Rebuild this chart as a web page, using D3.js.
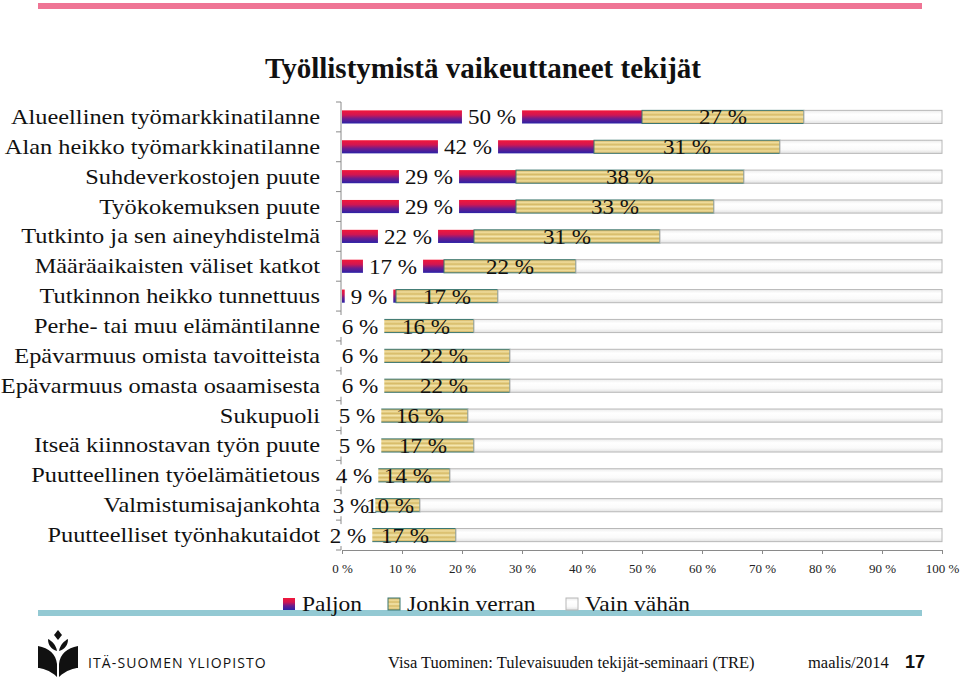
<!DOCTYPE html>
<html><head><meta charset="utf-8">
<script src="https://cdn.jsdelivr.net/npm/d3@7"></script>
<style>
html,body{margin:0;padding:0;background:#fff;}
svg{display:block;}
</style></head>
<body>
<svg id="chart" width="960" height="679"></svg>
<script>
const categories = [
  "Alueellinen työmarkkinatilanne",
  "Alan heikko työmarkkinatilanne",
  "Suhdeverkostojen puute",
  "Työkokemuksen puute",
  "Tutkinto ja sen aineyhdistelmä",
  "Määräaikaisten väliset katkot",
  "Tutkinnon heikko tunnettuus",
  "Perhe- tai muu elämäntilanne",
  "Epävarmuus omista tavoitteista",
  "Epävarmuus omasta osaamisesta",
  "Sukupuoli",
  "Itseä kiinnostavan työn puute",
  "Puutteellinen työelämätietous",
  "Valmistumisajankohta",
  "Puutteelliset työnhakutaidot"
];
const paljon = [50, 42, 29, 29, 22, 17, 9, 6, 6, 6, 5, 5, 4, 3, 2];
const jonkin = [27, 31, 38, 33, 31, 22, 17, 16, 22, 22, 16, 17, 14, 10, 17];
const vainVahan = [23, 27, 33, 38, 47, 61, 74, 78, 72, 72, 79, 78, 82, 87, 81];
const seriesNames = ["Paljon", "Jonkin verran", "Vain vähän"];
const xTicks = [0, 10, 20, 30, 40, 50, 60, 70, 80, 90, 100];
const title = "Työllistymistä vaikeuttaneet tekijät";

const svg = d3.select("#chart");
const serif = "'Liberation Serif','Times New Roman',serif";

// defs
const defs = svg.append("defs");
const gP = defs.append("linearGradient").attr("id","gP").attr("x1",0).attr("y1",0).attr("x2",0).attr("y2",1);
[[0,"#f2173a"],[0.35,"#d01652"],[0.65,"#6a1c8e"],[1,"#2a22a6"]].forEach(s=>gP.append("stop").attr("offset",s[0]).attr("stop-color",s[1]));
const gJ = defs.append("linearGradient").attr("id","gJ").attr("x1",0).attr("y1",0).attr("x2",0).attr("y2",1);
[[0,"#c9a956"],[0.18,"#f1de9e"],[0.34,"#d6ba66"],[0.5,"#f5e7b0"],[0.66,"#d6ba66"],[0.82,"#efdb98"],[1,"#c4a452"]].forEach(s=>gJ.append("stop").attr("offset",s[0]).attr("stop-color",s[1]));
const gV = defs.append("linearGradient").attr("id","gV").attr("x1",0).attr("y1",0).attr("x2",0).attr("y2",1);
[[0,"#ececec"],[0.3,"#ffffff"],[0.7,"#fafafa"],[1,"#e2e2e2"]].forEach(s=>gV.append("stop").attr("offset",s[0]).attr("stop-color",s[1]));
const fills = ["url(#gP)","url(#gJ)","url(#gV)"];
const strokes = ["none","#3b7772","#b8b8b8"];

// decorations
svg.append("rect").attr("x",38).attr("y",3).attr("width",884).attr("height",6).attr("fill","#ef7595");
svg.append("rect").attr("x",38).attr("y",610).attr("width",884).attr("height",6).attr("fill","#93c9d3");

// title
svg.append("text").attr("x",483).attr("y",78).attr("text-anchor","middle")
  .attr("font-family",serif).attr("font-weight","bold").attr("font-size",29).attr("fill","#111").text(title);

// data table
const table = categories.map((c,i)=>({cat:c,"Paljon":paljon[i],"Jonkin verran":jonkin[i],"Vain vähän":vainVahan[i]}));
const stack = d3.stack().keys(seriesNames)(table);

const x = d3.scaleLinear().domain([0,100]).range([342,942]);
const y = d3.scaleBand().domain(categories).range([102,550]).paddingInner(0.56).paddingOuter(0.28);
const step = y.step();

// axes
const xAxis = svg.append("g").attr("transform","translate(0,550)")
  .call(d3.axisBottom(x).tickValues(xTicks).tickSize(4).tickFormat(d=>d+" %"));
xAxis.select(".domain").attr("stroke","#8a8a8a");
xAxis.selectAll(".tick line").attr("stroke","#8a8a8a");
xAxis.selectAll(".tick text").attr("font-family",serif).attr("font-size",13).attr("fill","#222").attr("dy","1.2em");

// y axis line + boundary ticks
svg.append("line").attr("x1",341).attr("x2",341).attr("y1",102).attr("y2",550).attr("stroke","#8a8a8a");
svg.selectAll(".ytick").data(d3.range(categories.length+1)).join("line")
  .attr("x1",336).attr("x2",341)
  .attr("y1",i=>y.range()[0]+i*step).attr("y2",i=>y.range()[0]+i*step)
  .attr("stroke","#8a8a8a");

// category labels (horizontally widened to mimic the wide original face)
svg.selectAll(".cat").data(categories).join("text")
  .attr("transform",d=>`translate(320,${y(d)+y.bandwidth()/2+7}) scale(1.16,1)`)
  .attr("text-anchor","end").attr("font-family",serif).attr("font-size",21).attr("fill","#111").text(d=>d);

// bars
const layers = svg.selectAll(".layer").data(stack).join("g");
layers.each(function(s,si){
  d3.select(this).selectAll("rect").data(s).join("rect")
    .attr("x",d=>x(d[0])).attr("width",d=>x(d[1])-x(d[0]))
    .attr("y",d=>y(d.data.cat)).attr("height",y.bandwidth())
    .attr("fill",fills[si]).attr("stroke",strokes[si]).attr("stroke-width",1);
});

const LS = 1.1; // label widen factor
// Paljon labels with white boxes
const pl = svg.selectAll(".pl").data(stack[0]).join("g");
pl.each(function(d){
  const g = d3.select(this);
  const cx = x((d[0]+d[1])/2), cy = y(d.data.cat)+y.bandwidth()/2;
  const t = g.append("text").attr("transform",`translate(${cx},${cy+7.5}) scale(${LS},1)`).attr("text-anchor","middle")
    .attr("font-family",serif).attr("font-size",21).attr("fill","#111").text(d.data["Paljon"]+" %");
  const w = t.node().getComputedTextLength()*LS;
  g.insert("rect","text").attr("x",cx-w/2-6).attr("y",cy-11).attr("width",w+12).attr("height",22).attr("fill","#fff");
});
// Jonkin labels
svg.selectAll(".jl").data(stack[1]).join("text")
  .attr("transform",d=>`translate(${x((d[0]+d[1])/2)},${y(d.data.cat)+y.bandwidth()/2+7.5}) scale(${LS},1)`)
  .attr("text-anchor","middle").attr("font-family",serif).attr("font-size",21).attr("fill","#111")
  .text(d=>d.data["Jonkin verran"]+" %");

// legend
const legX = [283, 388, 566];
const leg = svg.selectAll(".leg").data(seriesNames).join("g").attr("transform",(d,i)=>`translate(${legX[i]},598)`);
leg.append("rect").attr("width",12).attr("height",12).attr("fill",(d,i)=>fills[i]).attr("stroke",(d,i)=>strokes[i]==="none"?"none":strokes[i]);
leg.append("text").attr("transform","translate(19,13) scale(1.12,1)").attr("font-family",serif).attr("font-size",21).attr("fill","#111").text(d=>d);

// footer logo
const logo = svg.append("g").attr("transform","translate(38,630)").attr("fill","#111");
logo.append("path").attr("d","M20 0 L24 5 L20 10 L16 5 Z");
logo.append("path").attr("d","M10 9 C14 11 18 15 19 21 C13 19 10 15 10 9 Z");
logo.append("path").attr("d","M30 9 C26 11 22 15 21 21 C27 19 30 15 30 9 Z");
logo.append("path").attr("d","M0 16 C11 18 18 24 19 34 L19 47 C12 40 3 38 0 38 Z");
logo.append("path").attr("d","M40 16 C29 18 22 24 21 34 L21 47 C28 40 37 38 40 38 Z");
svg.append("text").attr("x",88).attr("y",668).attr("font-family","'Open Sans','DejaVu Sans',sans-serif")
  .attr("font-size",14).attr("letter-spacing",1.1).attr("fill","#111").text("ITÄ-SUOMEN YLIOPISTO");
svg.append("text").attr("x",388).attr("y",668).attr("font-family",serif).attr("font-size",16.5).attr("fill","#111")
  .text("Visa Tuominen: Tulevaisuuden tekijät-seminaari (TRE)");
svg.append("text").attr("x",808).attr("y",668).attr("font-family",serif).attr("font-size",16.5).attr("fill","#111").text("maalis/2014");
svg.append("text").attr("x",905).attr("y",668).attr("font-family","'Liberation Sans',Arial,sans-serif").attr("font-weight","bold")
  .attr("font-size",18).attr("fill","#111").text("17");
</script>
</body></html>
